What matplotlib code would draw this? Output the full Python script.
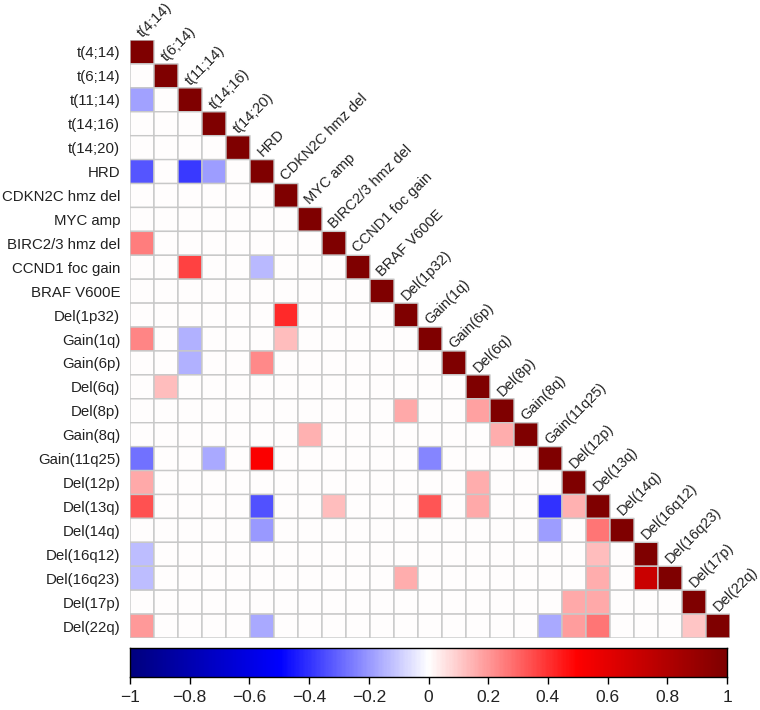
import numpy as np
import matplotlib
matplotlib.use("Agg")
import matplotlib.pyplot as plt
from matplotlib.colors import LinearSegmentedColormap

plt.rcParams['font.family'] = ['Liberation Sans', 'DejaVu Sans']

labels = ["t(4;14)", "t(6;14)", "t(11;14)", "t(14;16)", "t(14;20)", "HRD",
          "CDKN2C hmz del", "MYC amp", "BIRC2/3 hmz del", "CCND1 foc gain",
          "BRAF V600E", "Del(1p32)", "Gain(1q)", "Gain(6p)", "Del(6q)",
          "Del(8p)", "Gain(8q)", "Gain(11q25)", "Del(12p)", "Del(13q)",
          "Del(14q)", "Del(16q12)", "Del(16q23)", "Del(17p)", "Del(22q)"]

# off-diagonal correlations (lower triangle)
row_var = ["t(11;14)", "HRD", "HRD", "HRD", "BIRC2/3 hmz del",
           "CCND1 foc gain", "CCND1 foc gain", "Del(1p32)",
           "Gain(1q)", "Gain(1q)", "Gain(1q)", "Gain(6p)", "Gain(6p)",
           "Del(6q)", "Del(8p)", "Del(8p)", "Gain(8q)", "Gain(8q)",
           "Gain(11q25)", "Gain(11q25)", "Gain(11q25)", "Gain(11q25)",
           "Del(12p)", "Del(12p)",
           "Del(13q)", "Del(13q)", "Del(13q)", "Del(13q)", "Del(13q)", "Del(13q)", "Del(13q)",
           "Del(14q)", "Del(14q)", "Del(14q)",
           "Del(16q12)", "Del(16q12)",
           "Del(16q23)", "Del(16q23)", "Del(16q23)", "Del(16q23)",
           "Del(17p)", "Del(17p)",
           "Del(22q)", "Del(22q)", "Del(22q)", "Del(22q)", "Del(22q)", "Del(22q)"]
col_var = ["t(4;14)", "t(4;14)", "t(11;14)", "t(14;16)", "t(4;14)",
           "t(11;14)", "HRD", "CDKN2C hmz del",
           "t(4;14)", "t(11;14)", "CDKN2C hmz del", "t(11;14)", "HRD",
           "t(6;14)", "Del(1p32)", "Del(6q)", "MYC amp", "Del(8p)",
           "t(4;14)", "t(14;16)", "HRD", "Gain(1q)",
           "t(4;14)", "Del(6q)",
           "t(4;14)", "HRD", "BIRC2/3 hmz del", "Gain(1q)", "Del(6q)", "Gain(11q25)", "Del(12p)",
           "HRD", "Gain(11q25)", "Del(13q)",
           "t(4;14)", "Del(13q)",
           "t(4;14)", "Del(1p32)", "Del(13q)", "Del(16q12)",
           "Del(12p)", "Del(13q)",
           "t(4;14)", "HRD", "Gain(11q25)", "Del(12p)", "Del(13q)", "Del(17p)"]
r_value = [-0.18, -0.33, -0.39, -0.19, 0.25,
           0.37, -0.14, 0.42,
           0.24, -0.15, 0.13, -0.15, 0.23,
           0.13, 0.17, 0.18, 0.15, 0.16,
           -0.28, -0.17, 0.51, -0.24,
           0.17, 0.16,
           0.34, -0.34, 0.13, 0.33, 0.17, -0.40, 0.15,
           -0.20, -0.19, 0.27,
           -0.13, 0.13,
           -0.13, 0.16, 0.16, 0.71,
           0.17, 0.17,
           0.20, -0.17, -0.17, 0.19, 0.27, 0.11]

n = len(labels)
idx = {name: i for i, name in enumerate(labels)}
mat = np.eye(n)
for rv, cv, v in zip(row_var, col_var, r_value):
    mat[idx[rv], idx[cv]] = v
mask = np.triu(np.ones((n, n), dtype=bool), k=1)
mat = np.ma.masked_array(mat, mask=mask)

cmap = LinearSegmentedColormap.from_list(
    "bwr2", ["#00007F", "#0000FF", "#FFFFFF", "#FF0000", "#7F0000"])

fig = plt.figure(figsize=(7.6, 7.1), dpi=100)
ax = fig.add_axes([130 / 760, 1 - 638 / 710, 600 / 760, 598 / 710])
# pcolor skips masked cells, so the upper triangle stays empty
ax.pcolor(np.arange(n + 1) - 0.5, np.arange(n + 1) - 0.5, mat,
          cmap=cmap, vmin=-1, vmax=1, edgecolors="#c8c8c8", linewidth=1.0)
ax.set_xlim(-0.5, n - 0.5)
ax.set_ylim(n - 0.5, -0.5)
for s in ax.spines.values():
    s.set_visible(False)
ax.set_xticks([])
ax.set_yticks(range(n))
ax.set_yticklabels(labels, fontsize=10.8, color="#222222")
ax.tick_params(axis="y", length=0, pad=7)

for i, lab in enumerate(labels):
    ax.text(i + 0.1, i - 0.5, lab, rotation=45, rotation_mode="anchor",
            ha="left", va="bottom", fontsize=10.5, color="#222222")

cax = fig.add_axes([130 / 760, 1 - 677 / 710, 597 / 760, 29 / 710])
grad = np.linspace(-1, 1, 400).reshape(1, -1)
cax.imshow(grad, aspect="auto", cmap=cmap, vmin=-1, vmax=1,
           extent=[-1, 1, 0, 1])
cax.set_yticks([])
ticks = np.round(np.arange(-1, 1.01, 0.2), 1)
cax.set_xticks(ticks)
cax.set_xticklabels(["1" if t == 1 else "0" if t == 0 else "−1" if t == -1
                     else ("−" if t < 0 else "") + ("%.1f" % abs(t))
                     for t in ticks], fontsize=12.5, color="#222222")
cax.tick_params(axis="x", length=5, width=1, pad=4)
for s in cax.spines.values():
    s.set_linewidth(1.0)

fig.savefig("out.png", dpi=100)
